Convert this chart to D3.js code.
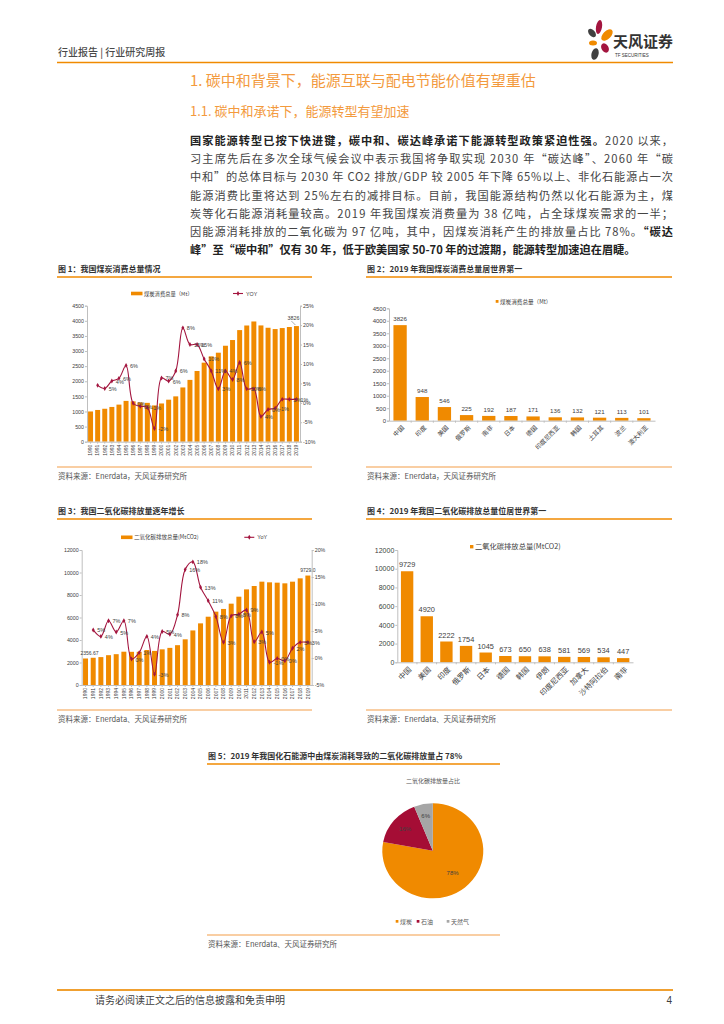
<!DOCTYPE html>
<html><head><meta charset="utf-8">
<script src="https://cdn.jsdelivr.net/npm/d3@7"></script>
<style>body{margin:0;background:#fff}svg{display:block}</style>
</head><body>
<script>
// ---------------- DATA ----------------
const years = ["1990","1991","1992","1993","1994","1995","1996","1997","1998","1999","2000","2001","2002","2003","2004","2005","2006","2007","2008","2009","2010","2011","2012","2013","2014","2015","2016","2017","2018","2019"];
const coalConsumption = [1000,1050,1090,1150,1227,1350,1335,1300,1285,1200,1265,1390,1500,1795,2045,2340,2615,2825,2945,3175,3364,3693,3845,3978,3847,3770,3727,3760,3795,3826];
const coalYoY = [null,4.5,3.7,5.6,6.3,9.6,-0.1,-0.9,-1.2,-6.6,6.4,5.6,8.2,19.3,15.0,15.0,11.3,8.2,3.6,8.2,6.0,10.4,3.6,3.6,-3.5,-1.7,-1.4,0.9,0.9,0.9];
const coalYoYLabels = ["","","5%","4%","6%","6%","0%","0%","-1%","-2%","7%","6%","6%","8%","15%","15%","10%","11%","3%","4%","8%","6%","10%","6%","4%","0%","-1%","","1%","1%"];
const co2Emission = [2357,2420,2480,2650,2740,2960,2950,2950,3110,3030,3170,3300,3540,4060,4850,5480,6070,6520,6760,7230,7850,8500,8800,9185,9126,9096,9037,9185,9481,9729];
const co2YoY = [null,5.2,4.0,6.9,4.8,6.9,-0.2,1.0,4.0,-3.0,4.9,4.4,8.0,16.4,17.8,13.1,10.6,7.7,2.9,7.8,8.1,8.9,3.0,4.8,-0.8,-0.1,-0.5,1.8,2.9,2.9];
const co2YoYLabels = ["","5%","4%","7%","5%","7%","0%","1%","4%","-3%","5%","4%","8%","16%","18%","13%","11%","8%","3%","8%","8%","9%","3%","5%","-1%","0%","0%","2%","3%","3%"];
const coalCountries = ["中国","印度","美国","俄罗斯","南非","日本","德国","印度尼西亚","韩国","土耳其","波兰","澳大利亚"];
const coalByCountry = [3826,948,546,225,192,187,171,136,132,121,113,101];
const co2Countries = ["中国","美国","印度","俄罗斯","日本","德国","韩国","伊朗","印度尼西亚","加拿大","沙特阿拉伯","南非"];
const co2ByCountry = [9729,4920,2222,1754,1045,673,650,638,581,569,534,447];
const fuelNames = ["煤炭","石油","天然气"];
const fuelShares = [78,16,6];
const coalTicks = [0,500,1000,1500,2000,2500,3000,3500,4000,4500];
const coalYoYTicks = [-10,-5,0,5,10,15,20,25];
const co2Ticks = [0,2000,4000,6000,8000,10000,12000];
const co2YoYTicks = [-5,0,5,10,15,20];

// ---------------- STYLE ----------------
const CJK = '"Noto Sans CJK SC","Noto Sans",sans-serif';
const NUM = '"Liberation Sans",Arial,"Noto Sans CJK SC",sans-serif';
const ORANGE = "#F08A00", RED = "#A3153F", GRAY = "#A6A6A6", TXT = "#404040";
const svg = d3.select("body").append("svg").attr("width",724).attr("height",1024);

function txt(x,y,s,o={}){
  const t = svg.append("text").attr("x",x).attr("y",y).text(s)
    .attr("font-family",o.ff||CJK).attr("font-size",o.fs||8).attr("fill",o.fill||TXT)
    .attr("font-weight",o.fw||"normal").attr("text-anchor",o.anchor||"start");
  return t;
}
function hline(x1,x2,y,c,w){ svg.append("line").attr("x1",x1).attr("x2",x2).attr("y1",y).attr("y2",y).attr("stroke",c).attr("stroke-width",w); }

// ---------------- HEADER ----------------
txt(58,56,"行业报告 | 行业研究周报",{fs:10,fill:"#4a4a4a",fw:"500"});
hline(57,673,62.5,"#F08A00",1.5);
// logo
const logo = svg.append("g").attr("transform","translate(600,40)");
logo.append("ellipse").attr("cx",-1).attr("cy",-13).attr("rx",3).attr("ry",7).attr("transform","rotate(10,-1,-13)").attr("fill","#A3153F");
logo.append("ellipse").attr("cx",-8).attr("cy",-7).attr("rx",3).attr("ry",5).attr("transform","rotate(-40,-8,-7)").attr("fill","#404040");
logo.append("ellipse").attr("cx",7).attr("cy",-5).attr("rx",4).attr("ry",7).attr("transform","rotate(45,7,-5)").attr("fill","#F08A00");
logo.append("ellipse").attr("cx",-7).attr("cy",3).attr("rx",4).attr("ry",2.5).attr("fill","#F08A00");
logo.append("ellipse").attr("cx",5).attr("cy",8).attr("rx",3.5).attr("ry",5).attr("transform","rotate(-30,5,8)").attr("fill","#A3153F");
logo.append("ellipse").attr("cx",-5).attr("cy",14).attr("rx",3.5).attr("ry",6).attr("transform","rotate(15,-5,14)").attr("fill","#404040");
txt(613,47,"天风证券",{fs:15,fw:"bold",fill:"#333"});
txt(615,57,"TF SECURITIES",{fs:4.5,ff:NUM,fill:"#333"});

// ---------------- TITLES ----------------
txt(190,86,"1. 碳中和背景下，能源互联与配电节能价值有望重估",{fs:15,fill:"#F39A3D"});
txt(190,116,"1.1. 碳中和承诺下，能源转型有望加速",{fs:13,fill:"#F39A3D"});

// ---------------- PARAGRAPH ----------------
const para = [
  [["国家能源转型已按下快进键，碳中和、碳达峰承诺下能源转型政策紧迫性强。",1],["2020 以来，",0]],
  [["习主席先后在多次全球气候会议中表示我国将争取实现 2030 年“碳达峰”、2060 年“碳",0]],
  [["中和”的总体目标与 2030 年 CO2 排放/GDP 较 2005 年下降 65%以上、非化石能源占一次",0]],
  [["能源消费比重将达到 25%左右的减排目标。目前，我国能源结构仍然以化石能源为主，煤",0]],
  [["炭等化石能源消耗量较高。2019 年我国煤炭消费量为 38 亿吨，占全球煤炭需求的一半；",0]],
  [["因能源消耗排放的二氧化碳为 97 亿吨，其中，因煤炭消耗产生的排放量占比 78%。",0],["“碳达",1]],
  [["峰”至“碳中和”仅有 30 年，低于欧美国家 50-70 年的过渡期，能源转型加速迫在眉睫。",1]]
];
para.forEach((line,i)=>{
  const t = svg.append("text").attr("x",190).attr("y",145+i*18.2)
    .attr("font-family",CJK).attr("font-size",11.2).attr("fill","#333");
  line.forEach(seg=>{ t.append("tspan").text(seg[0]).attr("font-weight",seg[1]?"bold":"normal").attr("fill",seg[1]?"#222":"#444"); });
  if(i<para.length-1) t.attr("textLength",483).attr("lengthAdjust","spacing");
});

// ---------------- CAPTIONS ----------------
function caption(x1,x2,y,s){ txt(x1+1,y,s,{fs:8,fw:"bold",fill:"#333"}); hline(x1,x2,y+5,"#F08A00",1.5); }
function source(x1,x2,y,s){ hline(x1,x2,y,"#F7BE84",1.5); txt(x1+1,y+12,s,{fs:7.5,fill:"#555"}); }
caption(57,312,272,"图 1：我国煤炭消费总量情况");
caption(366,672,272,"图 2：2019 年我国煤炭消费总量居世界第一");
source(57,312,467,"资料来源：Enerdata，天风证券研究所");
source(366,672,467,"资料来源：Enerdata，天风证券研究所");
caption(57,312,514,"图 3：我国二氧化碳排放量逐年增长");
caption(366,672,514,"图 4：2019 年我国二氧化碳排放总量位居世界第一");
source(57,312,710,"资料来源：Enerdata、天风证券研究所");
source(366,672,710,"资料来源：Enerdata、天风证券研究所");

// ---------------- COMBO CHART ----------------
function combo(cfg){
  const g = svg.append("g");
  if(cfg.clip){
    const id="clip"+Math.round(cfg.x0);
    svg.append("clipPath").attr("id",id).append("rect").attr("x",cfg.x0-40).attr("y",cfg.yTop-30).attr("width",cfg.x1-cfg.x0+80).attr("height",cfg.clip-(cfg.yTop-30));
    g.attr("clip-path",`url(#${id})`);
  }
  const x = d3.scaleBand().domain(years).range([cfg.x0,cfg.x1]).paddingInner(cfg.pad).paddingOuter(cfg.pad/2);
  const y = d3.scaleLinear().domain([0,cfg.yMax]).range([cfg.yBot,cfg.yTop]);
  const y2 = d3.scaleLinear().domain(cfg.y2Dom).range([cfg.yBot,cfg.yTop]);
  g.selectAll("rect.b").data(cfg.bars).join("rect")
    .attr("x",(d,i)=>x(years[i])).attr("width",x.bandwidth())
    .attr("y",d=>y(d)).attr("height",d=>cfg.yBot-y(d)).attr("fill",ORANGE);
  const ax = g.append("g").attr("transform",`translate(${cfg.x0},0)`)
    .call(d3.axisLeft(y).tickValues(cfg.ticks).tickSize(2).tickFormat(d3.format("d")));
  const ax2 = g.append("g").attr("transform",`translate(${cfg.x1},0)`)
    .call(d3.axisRight(y2).tickValues(cfg.ticks2).tickSize(2).tickFormat(d=>d+"%"));
  const axb = g.append("g").attr("transform",`translate(0,${cfg.yBot})`)
    .call(d3.axisBottom(x).tickSize(2).tickSizeOuter(0));
  [ax,ax2,axb].forEach(a=>{ a.selectAll("path,line").attr("stroke","#BFBFBF"); a.selectAll("text").attr("font-family",NUM).attr("font-size",cfg.tfs).attr("fill",TXT); });
  axb.selectAll("text").attr("transform","rotate(-90)").attr("text-anchor","end").attr("x",-3).attr("y",0).attr("dy","0.35em").attr("font-size",cfg.xfs);
  ax.selectAll("text").attr("x",-3);
  ax2.selectAll("text").attr("x",3);
  const pts = cfg.line.map((v,i)=>[x(years[i])+x.bandwidth()/2, v]).filter(p=>p[1]!==null);
  g.append("path").attr("d",d3.line().x(p=>p[0]).y(p=>y2(p[1])).curve(d3.curveCatmullRom.alpha(0.5))(pts))
    .attr("fill","none").attr("stroke",RED).attr("stroke-width",1.1);
  g.selectAll("path.m").data(pts).join("path").attr("transform",p=>`translate(${p[0]},${y2(p[1])})`)
    .attr("d",d3.symbol(d3.symbolDiamond,7)).attr("fill",RED);
  cfg.line.forEach((v,i)=>{
    if(v===null||!cfg.labels[i]) return;
    g.append("text").attr("x",x(years[i])+x.bandwidth()/2+4).attr("y",y2(v)+2.5).text(cfg.labels[i])
      .attr("font-family",NUM).attr("font-size",cfg.lfs).attr("fill",TXT);
  });
  const L = cfg.legend;
  svg.append("rect").attr("x",L.rx).attr("y",L.y-1.8).attr("width",11.5).attr("height",3.6).attr("fill",ORANGE);
  txt(L.rx+13,L.y+2,L.barText,{fs:L.fs,fill:TXT});
  hline(L.lx,L.lx+10,L.y,RED,1.1);
  svg.append("path").attr("transform",`translate(${L.lx+5},${L.y})`).attr("d",d3.symbol(d3.symbolDiamond,7)).attr("fill",RED);
  txt(L.lx+13,L.y+2,L.lineText,{fs:L.fs,ff:NUM,fill:TXT});
  return {x,y,y2,g};
}

const c1 = combo({x0:87,x1:300,yTop:305.7,yBot:441.7,yMax:4500,y2Dom:[-10,25],pad:0.3,
  bars:coalConsumption,line:coalYoY,labels:coalYoYLabels,ticks:coalTicks,ticks2:coalYoYTicks,
  tfs:5.3,xfs:5,lfs:5.5,
  legend:{rx:131,y:293.5,lx:233,fs:5.3,barText:"煤炭消费总量（Mt）",lineText:"YOY"}});
{
  const xi = c1.x("2019")+c1.x.bandwidth()/2, yv = c1.y(coalConsumption[29]);
  svg.append("line").attr("x1",xi-1).attr("y1",yv-1).attr("x2",xi-5).attr("y2",yv-5).attr("stroke","#595959").attr("stroke-width",0.5);
  txt(xi-3,yv-6,String(coalConsumption[29]),{fs:5.3,ff:NUM,anchor:"middle"});
}

const c3 = combo({x0:81.7,x1:311.7,yTop:550,yBot:685,yMax:12000,y2Dom:[-5,20],pad:0.35,
  bars:co2Emission,line:co2YoY,labels:co2YoYLabels,ticks:co2Ticks,ticks2:co2YoYTicks,
  tfs:5.3,xfs:5,lfs:5.5,clip:699,
  legend:{rx:121,y:537.3,lx:244.3,fs:5.5,barText:"二氧化碳排放总量(MtCO2)",lineText:"YoY"}});
txt(c3.x("1990")+c3.x.bandwidth()/2+4,c3.y(co2Emission[0])-3,"2356.67",{fs:5,ff:NUM,anchor:"middle"});
txt(c3.x("2019")+c3.x.bandwidth()/2,c3.y(co2Emission[29])-4,"9729.0",{fs:5,ff:NUM,anchor:"middle"});

// ---------------- BAR CHARTS ----------------
function bars(cfg){
  const g = svg.append("g");
  const x = d3.scaleBand().domain(cfg.cats).range([cfg.x0,cfg.x1]).paddingInner(cfg.pad).paddingOuter(cfg.pad/2);
  const y = d3.scaleLinear().domain([0,cfg.yMax]).range([cfg.yBot,cfg.yTop]);
  g.selectAll("rect").data(cfg.vals).join("rect")
    .attr("x",(d,i)=>x(cfg.cats[i])).attr("width",x.bandwidth())
    .attr("y",d=>y(d)).attr("height",d=>cfg.yBot-y(d)).attr("fill",ORANGE);
  const ax = g.append("g").attr("transform",`translate(${cfg.x0},0)`)
    .call(d3.axisLeft(y).tickValues(cfg.ticks).tickSize(2).tickFormat(d3.format("d")));
  const axb = g.append("g").attr("transform",`translate(0,${cfg.yBot})`)
    .call(d3.axisBottom(x).tickSize(0).tickSizeOuter(0));
  [ax,axb].forEach(a=>{ a.selectAll("path,line").attr("stroke","#BFBFBF"); a.selectAll("text").attr("font-family",NUM).attr("fill",TXT); });
  ax.selectAll("text").attr("font-size",cfg.tfs).attr("x",-3);
  axb.selectAll("text").attr("font-family",CJK).attr("font-size",cfg.xfs).attr("text-anchor","end")
    .attr("transform",`translate(3,${cfg.xdy}) rotate(-45)`).attr("y",0).attr("dy","0.35em");
  cfg.cats.forEach((c,i)=>{ if(i>0) g.append("line").attr("x1",x(c)-x.step()*cfg.pad/2).attr("x2",x(c)-x.step()*cfg.pad/2).attr("y1",cfg.yBot).attr("y2",cfg.yBot+2).attr("stroke","#BFBFBF"); });
  cfg.vals.forEach((v,i)=>{
    g.append("text").attr("x",x(cfg.cats[i])+x.bandwidth()/2).attr("y",y(v)-4).text(v)
      .attr("text-anchor","middle").attr("font-family",NUM).attr("font-size",cfg.lfs).attr("fill",TXT);
  });
  const L = cfg.legend;
  svg.append("rect").attr("x",L.x).attr("y",L.y-L.s/2).attr("width",L.s).attr("height",L.s).attr("fill",ORANGE);
  txt(L.x+L.s+1.5,L.y+L.fs*0.38,L.text,{fs:L.fs,fill:TXT});
  return {x,y};
}
bars({cats:coalCountries,vals:coalByCountry,x0:389,x1:655,yTop:308.3,yBot:420.7,yMax:4500,ticks:coalTicks,pad:0.4,
  tfs:6,xfs:6.2,lfs:6.2,xdy:6,legend:{x:495.7,y:301.4,s:2.8,fs:5.6,text:"煤炭消费总量（Mt）"}});
bars({cats:co2Countries,vals:co2ByCountry,x0:397.3,x1:633,yTop:550,yBot:662.3,yMax:12000,ticks:co2Ticks,pad:0.37,
  tfs:7,xfs:7.4,lfs:7.4,xdy:6,legend:{x:470,y:546.7,s:3.4,fs:7.3,text:"二氧化碳排放总量(MtCO2)"}});

// ---------------- PIE ----------------
caption(207,500,759,"图 5：2019 年我国化石能源中由煤炭消耗导致的二氧化碳排放量占 78%");
txt(433,783,"二氧化碳排放量占比",{fs:6,fill:"#595959",anchor:"middle"});
const pieG = svg.append("g").attr("transform","translate(432.8,850.8) scale(1,0.94)");
const arcs = d3.pie().sort(null)(fuelShares);
const pieColors = [ORANGE,"#A50D35",GRAY];
const arc = d3.arc().innerRadius(0).outerRadius(50.5);
pieG.selectAll("path").data(arcs).join("path").attr("d",arc).attr("fill",(d,i)=>pieColors[i]);
const labelRadius = [31,36,38];
arcs.forEach((a,i)=>{
  const la = d3.arc().innerRadius(labelRadius[i]).outerRadius(labelRadius[i]);
  const c = la.centroid(a);
  svg.append("text").attr("x",432.8+c[0]).attr("y",850.8+c[1]*0.94+2).text(fuelShares[i]+"%")
    .attr("text-anchor","middle").attr("font-family",NUM).attr("font-size",6).attr("fill","#404040");
});
const legX = [395.7,416.7,446.7];
fuelNames.forEach((n,i)=>{
  svg.append("rect").attr("x",legX[i]).attr("y",920).attr("width",2.7).attr("height",2.7).attr("fill",pieColors[i]);
  txt(legX[i]+4.3,923.5,n,{fs:6,fill:"#595959"});
});
source(207,500,935,"资料来源：Enerdata、天风证券研究所");

// ---------------- FOOTER ----------------
hline(57,673,990,"#F0A030",2);
txt(95,1004,"请务必阅读正文之后的信息披露和免责申明",{fs:10,fill:"#404040"});
txt(672,1004,"4",{fs:10,ff:NUM,fill:"#404040",anchor:"end"});
</script>
</body></html>
